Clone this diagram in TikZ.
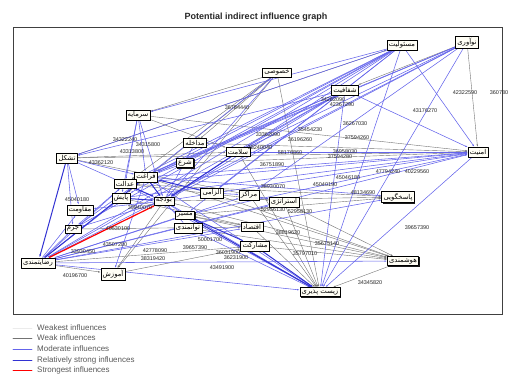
\documentclass[tikz,border=0pt]{standalone}
\usepackage{fontspec}
\setmainfont{Liberation Sans}
\newfontfamily\farsi[Script=Arabic]{DejaVu Sans}
\TeXXeTstate=1
\usetikzlibrary{arrows.meta,shadows,backgrounds}

\definecolor{modblue}{RGB}{100,100,235}
\definecolor{strongblue}{RGB}{50,50,210}
\newcommand{\fa}[1]{{\farsi\beginR #1\endR}}

\tikzset{
  varbox/.style={draw=black, fill=yellow!4, line width=0.55pt, inner sep=1.8pt,
    font=\fontsize{6.8}{8}\selectfont,
    drop shadow={shadow xshift=1pt, shadow yshift=-1pt, fill=black, opacity=0.9}},
  weakline/.style={draw=black!55, line width=0.4pt, -{Latex[length=2.5pt,width=1.6pt]}},
  modline/.style={draw=modblue, line width=0.55pt, -{Latex[length=2.5pt,width=1.6pt]}},
  strongline/.style={draw=strongblue, line width=1pt, -{Latex[length=3pt,width=2pt]}},
  redline/.style={draw=red, line width=1.2pt, -{Latex[length=3pt,width=2pt]}},
  numlab/.style={font=\fontsize{5.5}{6}\selectfont, inner sep=0.5pt, text=black!85},
  legtext/.style={anchor=west, font=\fontsize{8}{9}\selectfont, text=black!65, inner sep=0pt}
}

\begin{document}
\begin{tikzpicture}[x=1pt, y=-1pt, line cap=round, line join=round]
  \useasboundingbox (0,0) rectangle (508,380);

  %Title
  \node[font=\bfseries\fontsize{9}{10}\selectfont, text=black!85] (title) at (256,17) {Potential indirect influence graph};

  %Variables
  \node[varbox] (khosusi) at (277,73) {\fa{خصوصی}};
  \node[varbox] (masuliat) at (402,45) {\fa{مسئولیت}};
  \node[varbox] (noavari) at (467,42) {\fa{نوآوری}};
  \node[varbox] (amniat) at (478,152) {\fa{امنیت}};
  \node[varbox] (shafafiat) at (345,90) {\fa{شفافیت}};
  \node[varbox] (sarmaye) at (138,115) {\fa{سرمایه}};
  \node[varbox] (tashakol) at (67,158) {\fa{تشکل}};
  \node[varbox] (moghavemat) at (80,210) {\fa{مقاومت}};
  \node[varbox] (jorm) at (73,229) {\fa{جرم}};
  \node[varbox] (rezayat) at (38,263) {\fa{رضایتمندی}};
  \node[varbox] (amuzesh) at (113,274) {\fa{آموزش}};
  \node[varbox] (budje) at (164,201) {\fa{بودجه}};
  \node[varbox] (faraghat) at (146,177) {\fa{فراغت}};
  \node[varbox] (edalat) at (125,184) {\fa{عدالت}};
  \node[varbox] (payesh) at (121,198) {\fa{پایش}};
  \node[varbox] (modakhele) at (195,143) {\fa{مداخله}};
  \node[varbox] (salamat) at (238,152) {\fa{سلامت}};
  \node[varbox] (shar) at (185,163) {\fa{شرع}};
  \node[varbox] (elzami) at (212,193) {\fa{الزامی}};
  \node[varbox] (marakez) at (249,195) {\fa{مراکز}};
  \node[varbox] (strategy) at (284,202) {\fa{استراتژی}};
  \node[varbox] (masir) at (185,215) {\fa{مسیر}};
  \node[varbox] (tavanmandi) at (188,228) {\fa{توانمندی}};
  \node[varbox] (eghtesad) at (252,227) {\fa{اقتصاد}};
  \node[varbox] (mosharekat) at (255,246) {\fa{مشارکت}};
  \node[varbox] (pasokhgoi) at (398,197) {\fa{پاسخگویی}};
  \node[varbox] (hushmandi) at (403,261) {\fa{هوشمندی}};
  \node[varbox] (zist) at (320,292) {\fa{زیست پذیری}};

  %Influence values
  \foreach \x/\y/\t [count=\i] in {465/93/42322590, 499/93/360780, 425/111/43176270,
      237/108/36784440, 417/228/39657390, 370/283/34345820, 75/276/40196700,
      77/200/45040180, 222/268/43491900, 195/248/39657390, 153/259/38319420,
      155/251/42778090, 305/254/35797010, 327/244/35675140, 288/233/38819620,
      228/253/36031900, 348/178/45046180, 388/172/47794240, 417/172/40229560,
      363/193/48134690, 273/187/38930070, 273/210/52956130, 342/105/42367290,
      333/100/34282090, 355/124/36267030, 357/138/37594260, 345/152/36958030,
      125/140/34322240, 148/145/34315800, 101/163/43362120, 272/165/36751890,
      290/153/58176860, 115/245/43507280, 83/252/33930450, 310/130/35454230,
      300/140/36196260, 268/135/33362090, 260/148/38240040, 236/258/36231900,
      210/240/50001700, 140/208/39940070, 132/152/43313800, 325/185/45040190,
      300/212/52958130, 118/229/40530100, 340/157/37594280}
    \node[numlab] (num\i) at (\x,\y) {\t};

  \begin{scope}[on background layer]
    %Frame
    \draw[black!75, line width=0.8pt] (13,27) rectangle (502,314);

    %Weak influences
    \foreach \a/\b in {khosusi/modakhele, khosusi/sarmaye, khosusi/edalat, khosusi/amuzesh,
        khosusi/zist, tashakol/masuliat, tashakol/salamat, tashakol/strategy, tashakol/amniat,
        sarmaye/amniat, sarmaye/salamat, noavari/amniat, noavari/shafafiat, rezayat/amuzesh,
        budje/hushmandi, faraghat/hushmandi, elzami/hushmandi, masir/hushmandi, hushmandi/zist,
        edalat/pasokhgoi, budje/pasokhgoi, masir/pasokhgoi, eghtesad/zist, strategy/zist,
        marakez/zist, salamat/zist, eghtesad/masir, budje/amuzesh, shar/amniat, modakhele/amniat,
        edalat/strategy, payesh/eghtesad, mosharekat/hushmandi, strategy/hushmandi, jorm/eghtesad,
        amuzesh/mosharekat, rezayat/mosharekat, khosusi/payesh, tavanmandi/hushmandi}
      \draw[weakline] (\a) -- (\b);

    %Moderate influences
    \foreach \a/\b in {masuliat/tashakol, masuliat/sarmaye, masuliat/faraghat, masuliat/budje,
        masuliat/edalat, masuliat/rezayat, masuliat/masir, masuliat/elzami, masuliat/jorm,
        masuliat/zist, masuliat/amniat, masuliat/payesh, noavari/salamat, noavari/budje,
        noavari/faraghat, noavari/rezayat, noavari/zist, noavari/marakez, noavari/edalat,
        shafafiat/budje, shafafiat/edalat, shafafiat/rezayat, shafafiat/amniat, shafafiat/zist,
        shafafiat/faraghat, shafafiat/tashakol, khosusi/faraghat, khosusi/budje,
        sarmaye/budje, sarmaye/faraghat, sarmaye/edalat, sarmaye/payesh,
        tashakol/moghavemat, tashakol/budje, tashakol/faraghat, tashakol/jorm,
        edalat/amniat, budje/amniat, faraghat/amniat, rezayat/amniat, payesh/amniat,
        salamat/amniat, masir/amniat, rezayat/edalat, rezayat/payesh, rezayat/marakez,
        rezayat/strategy, rezayat/pasokhgoi, rezayat/hushmandi, rezayat/zist, rezayat/jorm,
        rezayat/moghavemat, rezayat/eghtesad, rezayat/masir, amniat/zist, tavanmandi/zist,
        budje/zist, faraghat/zist, edalat/zist, faraghat/pasokhgoi, faraghat/amuzesh,
        budje/jorm, faraghat/jorm, edalat/jorm, budje/moghavemat, masir/budje,
        tavanmandi/budje, elzami/marakez, marakez/strategy, modakhele/budje, shar/faraghat,
        salamat/shafafiat}
      \draw[modline] (\a) -- (\b);

    %Relatively strong influences
    \foreach \a/\b in {tashakol/rezayat, rezayat/faraghat, faraghat/budje, edalat/budje,
        payesh/budje, salamat/budje, mosharekat/zist, masir/zist, elzami/faraghat,
        mosharekat/masir}
      \draw[strongline] (\a) -- (\b);

    %Strongest influences
    \draw[redline] (rezayat) -- (budje);
  \end{scope}

  %Legend
  \foreach \y/\s/\t [count=\i] in {328/black!8/Weakest influences, 338/black!55/Weak influences,
      349/modblue/Moderate influences, 360/strongblue/Relatively strong influences,
      370/red/Strongest influences} {
    \coordinate (legA\i) at (13,\y);
    \coordinate (legB\i) at (32,\y);
    \draw[\s, line width=0.8pt] (legA\i) -- (legB\i);
    \node[legtext] (leg\i) at (37,\y) {\t};
  }
\end{tikzpicture}
\end{document}
